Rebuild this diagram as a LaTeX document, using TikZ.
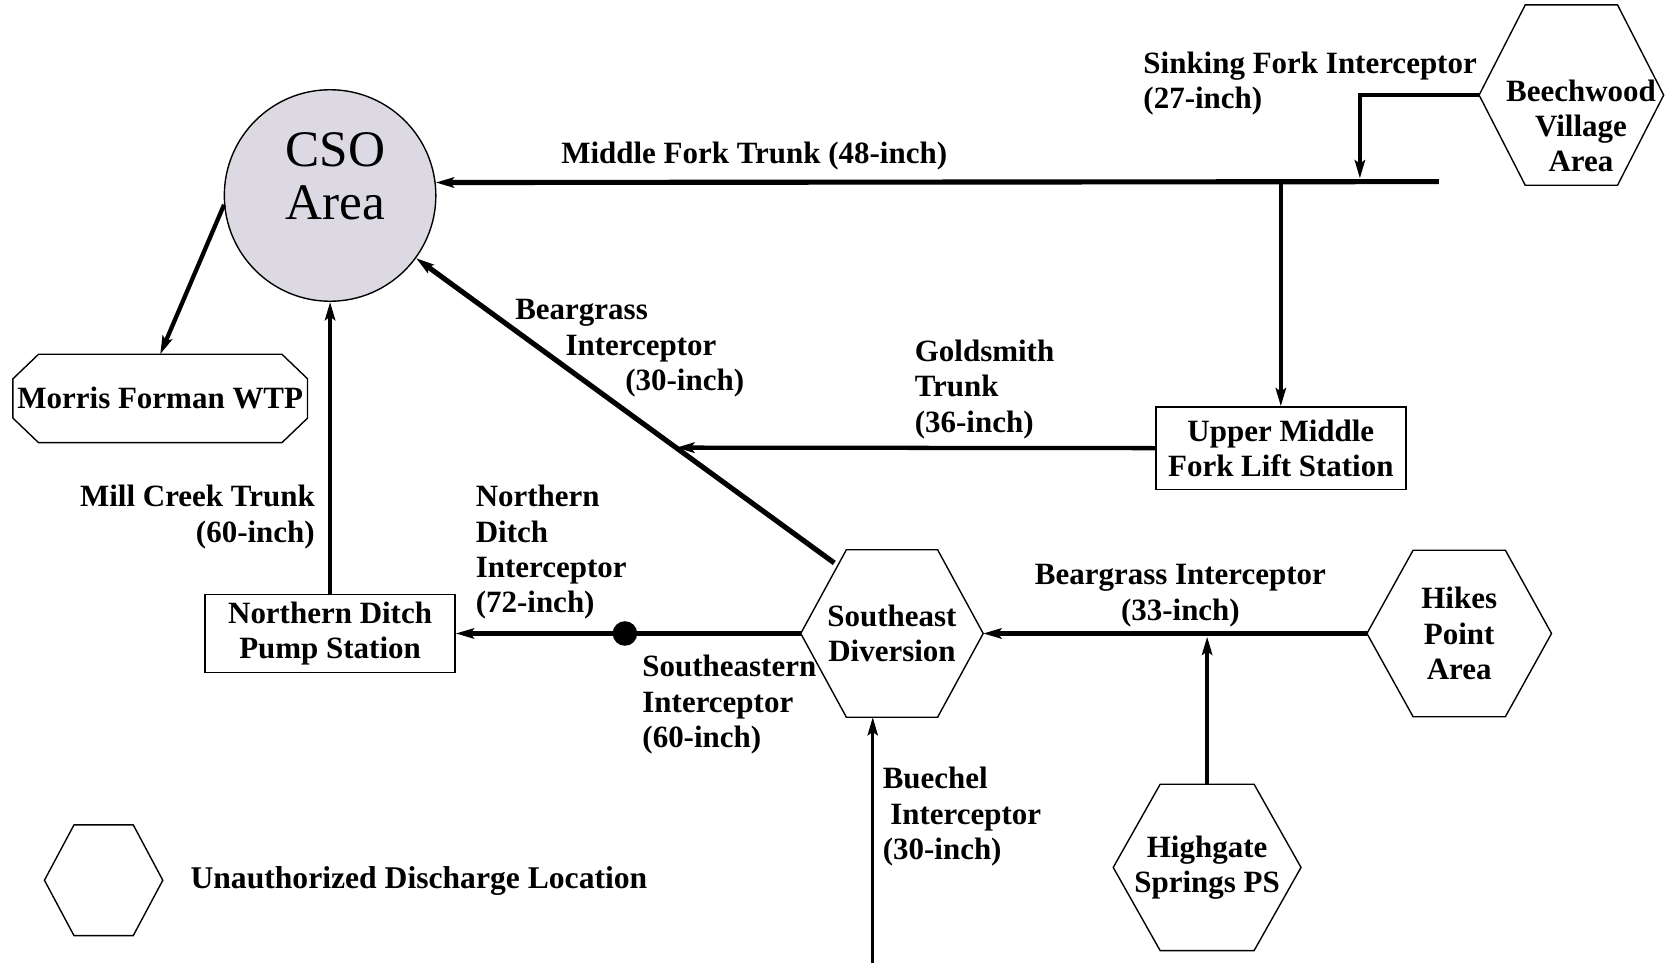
\documentclass[tikz,border=0pt]{standalone}
\usepackage{fontspec}
\setmainfont{Liberation Serif}
\usetikzlibrary{arrows.meta,calc}
\definecolor{csofill}{RGB}{221,217,226}

% outline of a flat-topped hexagon drawn round a rectangular node
\newcommand\hexoutline[1]{%
  \draw[outline] (#1.west) -- ($(#1.north west)!.25!(#1.north east)$)
    -- ($(#1.north west)!.75!(#1.north east)$) -- (#1.east)
    -- ($(#1.south west)!.75!(#1.south east)$)
    -- ($(#1.south west)!.25!(#1.south east)$) -- cycle;}
% outline of a rectangle with chamfered corners
\newcommand\octoutline[1]{%
  \draw[outline] ([xshift=12pt]#1.north west) -- ([xshift=-12pt]#1.north east)
    -- ([yshift=-11.5pt]#1.north east) -- ([yshift=11.5pt]#1.south east)
    -- ([xshift=-12pt]#1.south east) -- ([xshift=12pt]#1.south west)
    -- ([yshift=11.5pt]#1.south west) -- ([yshift=-11.5pt]#1.north west) -- cycle;}

\begin{document}
\begin{tikzpicture}[x=0.5pt,y=-0.5pt,
  lbl/.style={font=\fontsize{14.5}{16.5}\selectfont\bfseries, inner sep=0pt},
  outline/.style={line width=0.65pt},
  boxrect/.style={lbl, draw, outline, align=center},
  hexbox/.style={lbl, align=center},
  tip/.style={-{Stealth[length=8.5pt,width=4.8pt,inset=1.6pt]}},
  pipe/.style={line width=2.4pt, tip},
  midpipe/.style={line width=2pt, tip},
  thinpipe/.style={line width=1.5pt, tip}]
\useasboundingbox (0,0) rectangle (1568,901);

% ---- facilities and areas ----
\node[circle, draw, outline, fill=csofill, minimum size=99pt, inner sep=0pt] (cso) at (309,183) {};
\node[font=\fontsize{24}{25}\selectfont, align=center, inner sep=0pt] (csot) at (314,165) {CSO\\Area};

\node[hexbox, minimum width=137.5pt, minimum height=41pt] (mf) at (150,373) {Morris Forman WTP};
\octoutline{mf}

\node[boxrect, minimum width=117pt, minimum height=36.5pt] (ndp) at (309,593) {Northern Ditch\\Pump Station};
\node[boxrect, minimum width=117pt, minimum height=38.5pt] (umf) at (1199,419.5) {Upper Middle\\Fork Lift Station};

\node[hexbox, minimum width=86pt, minimum height=84pt] (bw) at (1471,89) {};
\hexoutline{bw}
\node[lbl, align=center] (bwt) at (1480,118) {Beechwood\\Village\\Area};

\node[hexbox, minimum width=85pt, minimum height=78pt] (sd) at (835,593) {Southeast\\Diversion};
\hexoutline{sd}
\node[hexbox, minimum width=86pt, minimum height=77.5pt] (hp) at (1366,593) {Hikes\\Point\\Area};
\hexoutline{hp}
\node[hexbox, minimum width=87.5pt, minimum height=77.5pt] (hs) at (1130,812) {Highgate\\Springs PS};
\hexoutline{hs}

% legend symbol
\node[hexbox, minimum width=55pt, minimum height=51.5pt] (lgh) at (97,824) {};
\hexoutline{lgh}
\node[lbl, anchor=west, font=\fontsize{14.8}{16.5}\selectfont\bfseries] (lgt) at (178,825) {Unauthorized Discharge Location};

% ---- sewer lines ----
\coordinate (mfe) at (1347,170);
\coordinate (mfj) at (1199,170);
\coordinate (sfj) at (1273,167);
\coordinate (bgs) at (781,527);
\coordinate (gst) at (633,419);
\coordinate (hgj) at (1130,596);
\coordinate (bub) at (817,901);

\draw[pipe] (mfe) -- (cso.7.5);
\draw[midpipe] (bw.west) -| (sfj);
\draw[midpipe] (mfj) -- (umf.north);
\draw[pipe] (bgs) -- (cso);
\draw[midpipe] (umf.west) -- (gst);
\draw[midpipe] (cso.185) -- (mf.north);
\draw[midpipe] (ndp.north) -- (cso.south);
\draw[pipe] (sd.west) -- (ndp.east);
\node[circle, fill=black, minimum size=11.5pt, inner sep=0pt] (ndd) at (585,593) {};
\draw[pipe] (hp.west) -- (sd.east);
\draw[midpipe] (hs.north) -- (hgj);
\draw[thinpipe] (bub) -- (bub |- sd.south);

% ---- line labels ----
\node[lbl, anchor=north west, align=left] (sfl) at (1070,48) {Sinking Fork Interceptor\\(27-inch)};
\node[lbl] (mfl) at (706,146) {Middle Fork Trunk (48-inch)};
\node[lbl, anchor=north west, align=left] (bgl30) at (482,280) {Beargrass\\\hspace*{23.5pt}Interceptor\\\hspace*{51.5pt}(30-inch)};
\node[lbl, anchor=north west, align=left] (gsl) at (856,318) {Goldsmith\\Trunk\\(36-inch)};
\node[lbl, anchor=north east, align=right] (mcl) at (295,454) {Mill Creek Trunk\\(60-inch)};
\node[lbl, anchor=north west, align=left] (ndil) at (445,454) {Northern\\Ditch\\Interceptor\\(72-inch)};
\node[lbl, anchor=north west, align=left] (sel) at (601,613) {Southeastern\\Interceptor\\(60-inch)};
\node[lbl, anchor=north, align=center] (bgl33) at (1105,528) {Beargrass Interceptor\\(33-inch)};
\node[lbl, anchor=north west, align=left] (bul) at (826,718) {Buechel\\\hspace*{3.5pt}Interceptor\\(30-inch)};
\end{tikzpicture}
\end{document}
